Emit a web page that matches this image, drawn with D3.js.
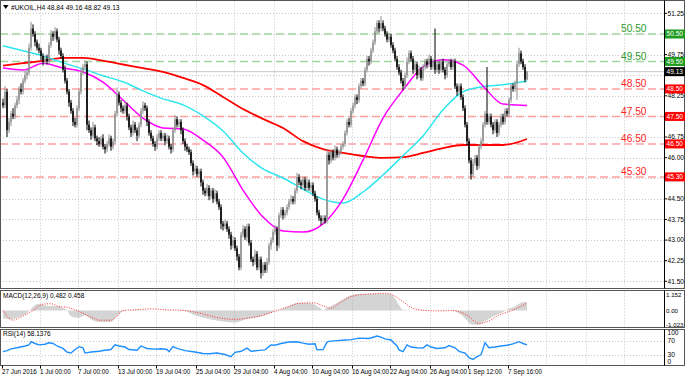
<!DOCTYPE html>
<html><head><meta charset="utf-8">
<script src="https://cdn.jsdelivr.net/npm/d3@7"></script>
<style>
body{margin:0;background:#fff;}
svg{display:block;font-family:"Liberation Sans",Arial,sans-serif;}
</style>
</head><body>
<svg id="c" width="685" height="377"></svg>
<script>
// ---------- DATA ----------
const title = "#UKOIL,H4  48.84 49.16 48.82 49.13";
const firstOpen = 48.0;
const closes = [
47.90,48.40,47.00,47.30,47.60,47.50,47.90,48.10,48.50,48.40,
48.80,49.00,49.10,50.00,50.70,50.50,50.20,50.00,49.90,49.70,
49.50,49.60,49.50,50.10,50.50,50.40,50.60,50.30,49.90,49.70,
49.20,48.80,48.40,48.00,47.70,47.30,47.20,47.80,48.40,49.10,
49.30,49.40,47.20,47.00,46.80,47.10,46.70,46.60,46.50,46.70,
46.40,46.30,46.50,46.70,46.40,46.60,47.60,48.30,48.00,47.80,
47.70,47.90,47.50,47.10,46.90,47.20,47.00,46.80,47.20,47.70,
47.90,47.80,47.30,46.90,46.70,46.50,46.40,46.70,46.90,46.70,
46.80,46.60,46.70,46.40,46.30,47.00,47.40,47.20,47.30,47.00,
46.60,46.40,46.30,46.20,45.80,45.50,45.60,45.40,45.50,45.10,
44.80,44.70,44.90,44.60,44.80,44.50,44.70,44.40,44.20,43.60,
43.50,43.60,43.40,43.20,42.80,43.00,42.70,42.40,42.00,43.20,
43.40,43.10,43.50,42.90,42.30,42.20,42.50,42.00,42.30,41.80,
42.10,41.90,42.20,42.80,43.00,43.30,43.40,42.80,43.90,44.10,
43.90,44.00,44.20,44.40,44.50,44.40,44.80,45.30,45.10,45.00,
45.20,44.90,45.10,44.90,45.00,44.70,44.50,44.00,43.80,43.70,
43.80,43.70,46.10,45.90,46.20,46.00,46.30,46.10,46.20,46.40,
46.50,46.90,47.30,47.20,47.70,47.90,48.20,48.10,48.60,48.80,
48.70,49.20,49.60,49.50,49.90,50.20,50.60,50.90,50.70,50.90,
50.70,50.50,50.30,50.40,50.10,49.90,49.60,49.30,49.10,48.80,
48.60,49.00,49.50,49.80,49.60,49.20,49.40,49.00,49.20,48.90,
49.30,49.50,49.40,49.60,49.30,49.50,49.20,49.40,49.20,49.50,
49.20,49.00,49.40,49.50,49.30,49.50,48.60,48.40,48.60,48.20,
47.80,47.20,46.60,45.90,45.40,45.80,46.00,45.70,46.40,46.60,
47.20,47.60,47.30,47.50,47.20,47.00,47.30,46.90,47.20,47.50,
47.30,47.70,47.60,48.10,48.60,48.50,48.70,49.40,49.80,49.50,49.30,48.84,49.13];
const upWick = [
0.15,0.2,0.1,0.15,0.1,0.2,0.1,0.15,0.1,0.2,
0.1,0.15,0.1,0.15,0.25,0.15,0.1,0.1,0.15,0.1,
0.1,0.1,0.15,0.1,0.15,0.1,0.15,0.1,0.1,0.1,
0.1,0.15,0.1,0.1,0.1,0.1,0.15,0.1,0.1,0.15,
0.1,0.15,0.1,0.15,0.1,0.2,0.1,0.1,0.15,0.1,
0.15,0.1,0.1,0.15,0.1,0.1,0.1,0.25,0.1,0.1,
0.1,0.15,0.1,0.1,0.1,0.15,0.1,0.1,0.1,0.1,
0.15,0.1,0.1,0.1,0.1,0.1,0.1,0.15,0.1,0.1,
0.1,0.1,0.15,0.1,0.1,0.1,0.15,0.1,0.1,0.1,
0.1,0.1,0.1,0.1,0.1,0.1,0.15,0.1,0.1,0.1,
0.1,0.1,0.15,0.1,0.1,0.1,0.15,0.1,0.1,0.1,
0.1,0.15,0.1,0.1,0.1,0.15,0.1,0.1,0.1,0.1,
0.15,0.1,0.1,0.1,0.1,0.1,0.15,0.1,0.1,0.1,
0.1,0.1,0.15,0.1,0.1,0.1,0.15,0.1,0.1,0.1,
0.1,0.1,0.1,0.1,0.15,0.1,0.1,0.15,0.1,0.1,
0.1,0.1,0.15,0.1,0.1,0.1,0.1,0.1,0.1,0.1,
0.1,0.1,0.2,0.1,0.1,0.1,0.15,0.1,0.1,0.1,
0.1,0.1,0.1,0.15,0.1,0.1,0.1,0.1,0.1,0.1,
0.1,0.1,0.1,0.1,0.1,0.1,0.15,0.1,0.1,0.25,
0.1,0.1,0.1,0.15,0.1,0.1,0.1,0.1,0.1,0.1,
0.1,0.1,0.15,0.1,0.1,0.1,0.1,0.1,0.15,0.1,
0.1,0.1,0.1,0.15,0.1,0.1,1.2,0.1,0.1,0.1,
0.1,0.1,0.1,0.1,0.1,0.1,0.1,0.1,0.1,0.1,
0.1,0.1,0.1,0.1,0.1,0.15,0.1,0.1,0.1,0.1,
0.1,0.1,1.7,0.1,0.1,0.1,0.1,0.1,0.1,0.1,
0.1,0.1,0.1,0.1,0.1,0.1,0.1,0.1,0.2,0.1,0.1,0.1,0.03];
const downWick = [
0.1,0.1,0.25,0.1,0.15,0.1,0.1,0.1,0.15,0.1,
0.1,0.1,0.15,0.1,0.1,0.1,0.15,0.1,0.1,0.15,
0.15,0.1,0.1,0.1,0.1,0.15,0.1,0.1,0.15,0.1,
0.1,0.1,0.1,0.15,0.1,0.15,0.1,0.1,0.1,0.1,
0.1,0.1,0.2,0.1,0.15,0.1,0.1,0.15,0.1,0.1,
0.1,0.15,0.1,0.1,0.15,0.1,0.1,0.1,0.1,0.15,
0.1,0.1,0.15,0.1,0.15,0.1,0.1,0.2,0.1,0.1,
0.1,0.1,0.15,0.1,0.1,0.1,0.15,0.1,0.1,0.1,
0.1,0.15,0.1,0.1,0.15,0.1,0.1,0.1,0.1,0.15,
0.1,0.15,0.1,0.1,0.1,0.15,0.1,0.1,0.1,0.15,
0.15,0.1,0.1,0.15,0.1,0.15,0.1,0.1,0.1,0.2,
0.15,0.1,0.1,0.15,0.15,0.1,0.1,0.15,0.1,0.1,
0.1,0.1,0.15,0.1,0.1,0.15,0.1,0.1,0.1,0.2,
0.1,0.1,0.1,0.1,0.15,0.1,0.1,0.2,0.1,0.1,
0.15,0.1,0.1,0.1,0.1,0.1,0.1,0.1,0.1,0.15,
0.1,0.1,0.1,0.1,0.15,0.1,0.1,0.1,0.1,0.15,
0.1,0.1,0.1,0.15,0.1,0.1,0.1,0.1,0.1,0.1,
0.1,0.1,0.1,0.1,0.1,0.1,0.1,0.15,0.1,0.1,
0.1,0.1,0.1,0.15,0.1,0.1,0.1,0.1,0.15,0.1,
0.1,0.1,0.1,0.1,0.1,0.1,0.1,0.1,0.1,0.1,
0.15,0.1,0.1,0.1,0.1,0.15,0.1,0.15,0.1,0.1,
0.1,0.1,0.15,0.1,0.1,0.1,0.15,0.1,0.15,0.1,
0.1,0.15,0.1,0.1,0.1,0.1,0.1,0.15,0.1,0.1,
0.1,0.1,0.15,0.1,0.2,0.1,0.1,0.15,0.1,0.1,
0.1,0.1,0.1,0.1,0.1,0.15,0.1,0.15,0.1,0.1,
0.1,0.1,0.1,0.1,0.1,0.1,0.1,0.6,0.1,0.1,0.1,0.1,0.02];

// moving averages, read at these bar indices
const maBars    = [0,10,20,30,40,50,60,70,80,90,100,110,120,130,140,150,160,170,180,190,200,210,220,230,240,250,262];
const maCyan    = [50.07,49.89,49.70,49.45,49.23,48.98,48.76,48.43,48.14,47.92,47.52,46.97,46.17,45.59,45.26,44.86,44.49,44.35,44.75,45.37,46.07,46.79,47.74,48.40,48.58,48.65,48.79];
const maMagenta = [49.26,49.19,49.44,49.26,49.12,48.75,48.10,47.44,47.08,47.04,46.64,46.02,44.82,43.84,43.33,43.29,43.59,44.49,45.91,47.44,48.46,49.30,49.56,49.37,48.61,47.95,47.90];
const maRed     = [49.35,49.44,49.52,49.63,49.63,49.53,49.39,49.26,49.12,48.90,48.64,48.21,47.77,47.41,47.08,46.60,46.31,46.17,46.06,45.99,46.02,46.17,46.35,46.46,46.46,46.46,46.68];

// MACD main (histogram) and signal, [bar, value]
const macdMain = [[0,-0.50],[4,-0.55],[8,-0.40],[12,-0.15],[14,0.10],[16,0.35],[18,0.40],[22,0.30],[27,0.28],[30,0.15],[32,0.0],[34,-0.35],[38,-0.45],[41,-0.30],[44,-0.55],[48,-0.70],[54,-0.72],[56,-0.45],[58,-0.20],[61,-0.02],[68,0.05],[76,0.0],[84,0.02],[91,-0.05],[96,-0.30],[104,-0.55],[111,-0.70],[116,-0.75],[121,-0.55],[126,-0.45],[131,-0.30],[136,-0.05],[140,0.10],[144,0.35],[148,0.48],[154,0.45],[158,0.20],[160,0.02],[162,0.15],[166,0.40],[170,0.70],[174,0.95],[178,1.02],[184,1.05],[188,1.05],[194,1.02],[196,0.75],[198,0.35],[200,0.05],[204,0.0],[208,-0.02],[214,0.0],[218,0.02],[224,0.0],[227,-0.10],[230,-0.35],[232,-0.60],[234,-0.85],[238,-0.90],[240,-0.75],[244,-0.45],[247,-0.25],[250,-0.10],[252,0.05],[256,0.25],[258,0.42],[261,0.55],[262,0.482]];
const macdSignal = [[0,0.0],[5,-0.60],[8,-0.45],[15,0.0],[20,0.40],[24,0.42],[28,0.25],[32,0.20],[37,0.0],[44,-0.40],[48,-0.60],[54,-0.60],[57,-0.35],[60,0.0],[66,0.05],[74,0.10],[81,0.05],[91,0.0],[98,-0.15],[106,-0.40],[115,-0.55],[121,-0.50],[128,-0.35],[137,0.0],[144,0.30],[148,0.45],[155,0.48],[160,0.30],[164,0.14],[168,0.45],[175,0.90],[182,1.02],[192,1.07],[195,0.96],[200,0.55],[205,0.14],[212,0.0],[218,-0.02],[225,0.0],[232,-0.28],[238,-0.80],[242,-0.70],[248,-0.28],[255,0.03],[262,0.458]];
const macdTicks = [1.152, 0.00, -1.023];
const macdTickLabels = ["1.152", "0.00", "-1.023"];
const macdTitle = "MACD(12,26,9) 0.482 0.458";

// RSI(14), [bar, value]
const rsi = [[0,39],[2,42],[4,47],[7,50],[11,55],[13,58],[14,67],[16,62],[18,58],[21,60],[23,64],[25,62],[27,55],[30,48],[32,38],[34,35],[36,45],[38,53],[40,50],[41,35],[44,38],[48,40],[51,43],[54,45],[56,58],[58,55],[61,52],[63,45],[67,43],[69,55],[72,48],[76,46],[79,47],[82,45],[83,39],[85,53],[87,48],[91,42],[96,38],[100,34],[103,33],[107,35],[111,31],[114,25],[116,37],[119,40],[122,49],[124,40],[127,42],[131,44],[134,58],[136,57],[139,62],[143,66],[147,67],[150,63],[153,60],[156,61],[157,44],[160,45],[162,66],[163,68],[167,70],[171,72],[174,73],[178,77],[183,76],[187,83],[189,80],[191,75],[194,72],[197,55],[198,44],[200,39],[202,58],[204,52],[207,50],[210,49],[212,58],[214,52],[217,48],[221,50],[223,56],[226,50],[228,40],[231,35],[233,22],[235,17],[237,25],[239,30],[241,64],[243,50],[246,52],[249,55],[252,57],[255,61],[258,67],[260,62],[262,58.14]];
const rsiTicks = [100, 70, 30, 0];
const rsiTitle = "RSI(14) 58.1376";

// horizontal levels
const greenLevels = [50.50, 49.50];
const redLevels = [48.50, 47.50, 46.50, 45.30];
const lastPrice = 49.13;

// axes
const priceTicks = [41.50,42.25,43.00,43.75,44.50,45.25,46.00,46.75,47.50,48.25,49.00,49.75,50.50,51.25];
const dateBars = [0,19,38,58,77,97,116,136,155,175,194,214,233,253];
const dateLabels = ["27 Jun 2016","1 Jul 00:00","7 Jul 00:00","13 Jul 00:00","19 Jul 04:00","25 Jul 04:00","29 Jul 04:00","4 Aug 04:00","10 Aug 04:00","16 Aug 04:00","22 Aug 04:00","26 Aug 04:00","1 Sep 12:00","7 Sep 16:00"];
const futureGridBars = [272, 292, 311];

// ---------- DRAWING ----------
const svg = d3.select("#c");
const plotR = 664;
const main = {top: 0.5, bottom: 288.5};
const macdP = {top: 290.5, bottom: 327.5};
const rsiP = {top: 329.5, bottom: 365.5};
const font = 6.6;
const dateFont = 6.3;

const x = d3.scaleLinear().domain([0, 262]).range([3, 527]);
const y = d3.scaleLinear().domain([41.5, 51.25]).range([281.3, 13.4]);
const ym = d3.scaleLinear().domain([-1.023, 1.152]).range([327, 292]);
const yr = d3.scaleLinear().domain([0, 100]).range([365.5, 330]);

const gridColor = "#c6c6c6";
const gridAt = dateBars.slice(1).concat(futureGridBars);

[main, macdP, rsiP].forEach(p => {
  svg.append("g").selectAll("line").data(gridAt).join("line")
    .attr("x1", d => Math.round(x(d)) - 0.5).attr("x2", d => Math.round(x(d)) - 0.5)
    .attr("y1", p.top).attr("y2", p.bottom)
    .attr("stroke", gridColor).attr("stroke-dasharray", "1,2");
});
svg.append("g").selectAll("line").data(priceTicks).join("line")
  .attr("x1", 0).attr("x2", plotR)
  .attr("y1", d => Math.round(y(d)) + 0.5).attr("y2", d => Math.round(y(d)) + 0.5)
  .attr("stroke", gridColor).attr("stroke-dasharray", "1,2");
svg.append("g").selectAll("line").data([70, 30]).join("line")
  .attr("x1", 0).attr("x2", plotR)
  .attr("y1", d => Math.round(yr(d)) + 0.5).attr("y2", d => Math.round(yr(d)) + 0.5)
  .attr("stroke", gridColor).attr("stroke-dasharray", "1,2");

// bid line
svg.append("line").attr("x1", 0).attr("x2", plotR)
  .attr("y1", y(lastPrice)).attr("y2", y(lastPrice))
  .attr("stroke", "#c8c8c8").attr("stroke-width", 1);

// level lines
const levels = greenLevels.map(v => ({v, c: "#9fd69f", t: "#2e9a2e"}))
  .concat(redLevels.map(v => ({v, c: "#ffa0a0", t: "#ff2424"})));
svg.append("g").selectAll("line").data(levels).join("line")
  .attr("x1", 0).attr("x2", plotR)
  .attr("y1", d => y(d.v)).attr("y2", d => y(d.v))
  .attr("stroke", d => d.c).attr("stroke-width", 1.5).attr("stroke-dasharray", "8,4");
svg.append("g").selectAll("text").data(levels).join("text")
  .attr("x", 621).attr("y", d => y(d.v) - 1.8)
  .attr("font-size", 10.2).attr("fill", d => d.t)
  .text(d => d.v.toFixed(2));

// moving averages
const maLine = d3.line().x(d => x(d[0])).y(d => y(d[1])).curve(d3.curveMonotoneX);
[[maRed, "#ff0000", 1.8], [maCyan, "#2ee6ee", 1.5], [maMagenta, "#ff00ff", 1.5]].forEach(([arr, col, w]) => {
  svg.append("path").datum(maBars.map((b, i) => [b, arr[i]]))
    .attr("d", maLine).attr("fill", "none").attr("stroke", col).attr("stroke-width", w);
});

// candles
const bars = closes.map((c, i) => {
  const o = i === 0 ? firstOpen : closes[i - 1];
  return {i, o, c, h: Math.max(o, c) + upWick[i], l: Math.min(o, c) - downWick[i]};
});
const cg = svg.append("g");
cg.selectAll("line").data(bars).join("line")
  .attr("x1", d => x(d.i)).attr("x2", d => x(d.i))
  .attr("y1", d => y(d.h)).attr("y2", d => y(d.l))
  .attr("stroke", d => d.c >= d.o ? "#909090" : "#000").attr("stroke-width", 1);
cg.selectAll("rect").data(bars).join("rect")
  .attr("x", d => x(d.i) - 0.75).attr("width", 1.5)
  .attr("y", d => y(Math.max(d.o, d.c)))
  .attr("height", d => Math.max(1, Math.abs(y(d.o) - y(d.c))))
  .attr("fill", d => d.c >= d.o ? "#909090" : "#000");

// MACD histogram (striped area) + signal
const defs = svg.append("defs");
const pat = defs.append("pattern").attr("id", "stripes").attr("patternUnits", "userSpaceOnUse")
  .attr("width", 2).attr("height", 4).attr("x", 0.5);
pat.append("rect").attr("x", 0).attr("y", 0).attr("width", 1).attr("height", 4).attr("fill", "#a8a8a8");
svg.append("path").datum(macdMain)
  .attr("d", d3.area().x(d => x(d[0])).y0(ym(0)).y1(d => ym(d[1])).curve(d3.curveMonotoneX))
  .attr("fill", "url(#stripes)");
svg.append("path").datum(macdSignal)
  .attr("d", d3.line().x(d => x(d[0])).y(d => ym(d[1])).curve(d3.curveMonotoneX))
  .attr("fill", "none").attr("stroke", "#ff3030").attr("stroke-width", 1).attr("stroke-dasharray", "1,1.5");

// RSI
svg.append("path").datum(rsi)
  .attr("d", d3.line().x(d => x(d[0])).y(d => yr(d[1])))
  .attr("fill", "none").attr("stroke", "#1e8fff").attr("stroke-width", 1.4);

// panel frames
[main, macdP, rsiP].forEach(p => {
  svg.append("rect").attr("x", 0.5).attr("y", p.top).attr("width", 684).attr("height", p.bottom - p.top)
    .attr("fill", "none").attr("stroke", "#555").attr("stroke-width", 1);
  svg.append("line").attr("x1", plotR + 0.5).attr("x2", plotR + 0.5).attr("y1", p.top).attr("y2", p.bottom)
    .attr("stroke", "#000");
});

// price boxes (data for hiding covered tick labels)
const boxes = greenLevels.map(v => ({v, bg: "#1f9c1f"}))
  .concat(redLevels.map(v => ({v, bg: "#ff0000"})))
  .concat([{v: lastPrice, bg: "#000"}]);
const covered = t => boxes.some(b => Math.abs(y(b.v) - y(t)) < 5);

// price axis ticks & labels
const ax = svg.append("g").attr("font-size", font).attr("fill", "#000");
ax.selectAll("line").data(priceTicks).join("line")
  .attr("x1", plotR).attr("x2", plotR + 3)
  .attr("y1", d => y(d)).attr("y2", d => y(d)).attr("stroke", "#000");
ax.selectAll("text").data(priceTicks.filter(t => !covered(t))).join("text")
  .attr("x", 667.5).attr("y", d => y(d) + 2.3).text(d => d.toFixed(2));

const bx = svg.append("g");
bx.selectAll("rect").data(boxes).join("rect")
  .attr("x", 665).attr("width", 20).attr("y", d => y(d.v) - 4.5).attr("height", 9)
  .attr("fill", d => d.bg);
bx.selectAll("text").data(boxes).join("text")
  .attr("x", 666.5).attr("y", d => y(d.v) + 2.3).attr("font-size", font).attr("fill", "#fff")
  .text(d => d.v.toFixed(2));

// MACD axis labels
svg.append("g").selectAll("text").data(macdTicks).join("text")
  .attr("x", 666).attr("y", d => Math.min(324.5, Math.max(295, ym(d))) + 2.3)
  .attr("font-size", 6.2).text((d, i) => macdTickLabels[i]);
// RSI axis labels
svg.append("g").selectAll("text").data(rsiTicks).join("text")
  .attr("x", 667.5).attr("y", d => Math.min(361.5, Math.max(333, yr(d))) + 2.3)
  .attr("font-size", font).text(d => d);

// date axis
const dx = svg.append("g").attr("font-size", dateFont);
dx.selectAll("line").data(dateBars).join("line")
  .attr("x1", d => Math.round(x(d)) - 0.5).attr("x2", d => Math.round(x(d)) - 0.5)
  .attr("y1", rsiP.bottom).attr("y2", rsiP.bottom + 3).attr("stroke", "#000");
dx.selectAll("text").data(dateBars).join("text")
  .attr("x", (d, i) => i === 0 ? 2 : x(d) - 1).attr("y", 373.5)
  .text((d, i) => dateLabels[i]);

// titles
svg.append("path").attr("d", "M3,5 L8.5,5 L5.75,9 Z").attr("fill", "#000");
svg.append("text").attr("x", 11).attr("y", 10).attr("font-size", 6.7).text(title);
svg.append("text").attr("x", 3).attr("y", 297.5).attr("font-size", 6.5).text(macdTitle);
svg.append("text").attr("x", 3).attr("y", 335.5).attr("font-size", 6.5).text(rsiTitle);
</script>
</body></html>
